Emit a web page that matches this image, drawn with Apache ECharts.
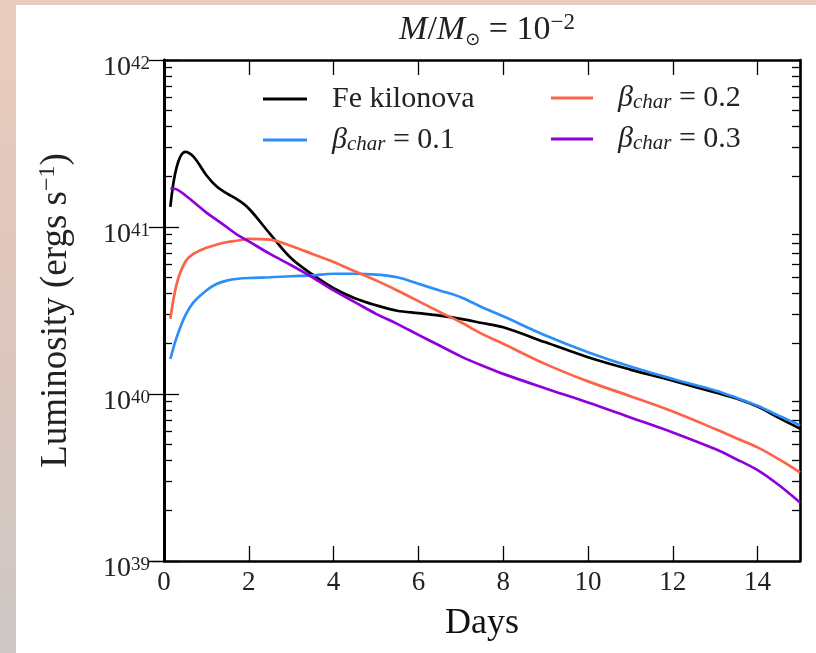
<!DOCTYPE html>
<html>
<head>
<meta charset="utf-8">
<script src="https://cdn.jsdelivr.net/npm/echarts@6/dist/echarts.min.js"></script>
<style>
html,body{margin:0;padding:0;width:816px;height:653px;overflow:hidden;}
body{background:linear-gradient(to bottom,#e9ccbe 0%,#ddc6bd 50%,#cdc8c6 100%);position:relative;}
#paper{position:absolute;left:16px;top:5px;width:800px;height:648px;background:#fff;}
#chart{position:absolute;left:0;top:0;width:816px;height:653px;}
</style>
</head>
<body>
<div id="paper"></div>
<div id="chart"></div>
<script>
// ---- data ----
const days = [0.15, 0.3, 0.5, 0.7, 1.0, 1.25, 1.5, 1.75, 2.0, 2.5, 3.0, 3.5, 4.0, 4.5, 5.0, 5.5, 6.0, 6.5, 7.0, 7.5, 8.0, 9.0, 10.0, 11.0, 12.0, 13.0, 13.5, 14.0, 14.5, 15.0];
const feKilonova = [1.32e41, 2.29e41, 2.82e41, 2.63e41, 2.04e41, 1.74e41, 1.58e41, 1.45e41, 1.29e41, 9.1e40, 6.5e40, 5.2e40, 4.3e40, 3.75e40, 3.4e40, 3.15e40, 3.05e40, 2.95e40, 2.82e40, 2.66e40, 2.51e40, 2.04e40, 1.66e40, 1.40e40, 1.20e40, 1.02e40, 9.4e39, 8.4e39, 7.2e39, 6.2e39];
const beta01 = [1.62e40, 2.19e40, 2.95e40, 3.55e40, 4.17e40, 4.57e40, 4.79e40, 4.9e40, 4.95e40, 5.0e40, 5.07e40, 5.13e40, 5.25e40, 5.25e40, 5.19e40, 5.0e40, 4.57e40, 4.17e40, 3.8e40, 3.31e40, 2.92e40, 2.24e40, 1.78e40, 1.46e40, 1.23e40, 1.05e40, 9.5e39, 8.5e39, 7.4e39, 6.5e39];
const beta02 = [2.82e40, 4.57e40, 6.17e40, 6.92e40, 7.5e40, 7.85e40, 8.13e40, 8.3e40, 8.5e40, 8.4e40, 7.7e40, 6.9e40, 6.17e40, 5.43e40, 4.79e40, 4.17e40, 3.6e40, 3.1e40, 2.69e40, 2.29e40, 2.0e40, 1.51e40, 1.19e40, 9.7e39, 7.85e39, 6.17e39, 5.43e39, 4.79e39, 4.07e39, 3.39e39];
const beta03 = [1.70e41, 1.68e41, 1.55e41, 1.41e41, 1.22e41, 1.10e41, 9.9e40, 8.9e40, 8.2e40, 6.9e40, 5.9e40, 5.0e40, 4.17e40, 3.55e40, 3.02e40, 2.63e40, 2.26e40, 1.95e40, 1.68e40, 1.48e40, 1.32e40, 1.08e40, 8.9e39, 7.24e39, 5.89e39, 4.68e39, 4.07e39, 3.5e39, 2.85e39, 2.24e39];

const seriesNames = ['Fe kilonova', 'βchar = 0.1', 'βchar = 0.2', 'βchar = 0.3'];
const seriesColors = ['#000000', '#2a8ff7', '#fc6347', '#9000d8'];
const seriesValues = [feKilonova, beta01, beta02, beta03];

const xTickInterval = 2;
const xMin = 0, xMax = 15;
const yMin = 1e39, yMax = 1e42;
const yMinorTicks = [2e39,3e39,4e39,5e39,6e39,7e39,8e39,9e39,2e40,3e40,4e40,5e40,6e40,7e40,8e40,9e40,2e41,3e41,4e41,5e41,6e41,7e41,8e41,9e41];

// ---- chart ----
const FONT = "'Liberation Serif', serif";
const chart = echarts.init(document.getElementById('chart'), null, {renderer: 'canvas'});

const axisLineStyle = {show: true, lineStyle: {color: '#000', width: 2.6}};
const majorTick = {show: true, inside: true, length: 15, lineStyle: {color: '#000', width: 1.3}};
const minorTickStyle = {show: true, inside: true, length: 8, lineStyle: {color: '#000', width: 1.3}, customValues: yMinorTicks.map(v => Math.log10(v))};

function legendFormatter(name) {
  if (name.indexOf('βchar') === 0) {
    return '{gap| }{beta|β}{sb|char}{txt| = ' + name.split('= ')[1] + '}';
  }
  return '{gap| }{txt|' + name + '}';
}
const legendRich = {
  gap: {width: 20, fontFamily: FONT, fontSize: 30},
  txt: {fontFamily: FONT, fontSize: 30, fontStyle: 'oblique 0deg', color: '#222', lineHeight: 30},
  beta: {fontFamily: FONT, fontSize: 30, fontStyle: 'italic', color: '#222', lineHeight: 30},
  sb: {fontFamily: FONT, fontSize: 21, fontStyle: 'italic', color: '#222', lineHeight: 14, verticalAlign: 'bottom'}
};
const legendText = {fontFamily: FONT, fontSize: 30, color: '#222', rich: legendRich};

const option = {
  backgroundColor: 'transparent',
  animation: false,
  textStyle: {fontFamily: FONT},
  title: {
    text: '{i|M}{n|/}{i|M}{sub|⊙}{n| = 10}{sup|−2}',
    left: 482, top: 6, textAlign: 'center',
    textStyle: {
      fontWeight: 'normal', fontFamily: FONT,
      rich: {
        i: {fontFamily: FONT, fontSize: 34, fontStyle: 'italic', fontWeight: 'normal', color: '#222', lineHeight: 38},
        n: {fontFamily: FONT, fontSize: 34, fontWeight: 'normal', color: '#222', lineHeight: 38},
        sub: {fontFamily: 'DejaVu Sans', fontSize: 18, fontWeight: 'normal', color: '#222', lineHeight: 16, verticalAlign: 'bottom'},
        sup: {fontFamily: FONT, fontSize: 23, fontWeight: 'normal', color: '#222', lineHeight: 16, verticalAlign: 'top'}
      }
    }
  },
  grid: {left: 164, top: 60, right: 16, bottom: 92, containLabel: false},
  legend: [
    {
      data: [seriesNames[0], seriesNames[1]], orient: 'vertical', left: 263, top: 84, padding: 0,
      icon: 'rect', itemWidth: 44, itemHeight: 3, itemGap: 11,
      formatter: legendFormatter, textStyle: legendText
    },
    {
      data: [seriesNames[2], seriesNames[3]], orient: 'vertical', left: 551, top: 83, padding: 0,
      icon: 'rect', itemWidth: 42, itemHeight: 3, itemGap: 11,
      formatter: legendFormatter, textStyle: legendText
    }
  ],
  xAxis: [
    {
      type: 'value', position: 'bottom', min: xMin, max: xMax, interval: xTickInterval,
      axisLine: axisLineStyle, axisTick: majorTick, splitLine: {show: false},
      axisLabel: {fontFamily: FONT, fontSize: 27, color: '#222', margin: 8, showMaxLabel: false},
      name: 'Days', nameLocation: 'middle', nameGap: 45,
      nameTextStyle: {fontFamily: FONT, fontSize: 36, color: '#111'}
    },
    {
      type: 'value', position: 'top', min: xMin, max: xMax, interval: xTickInterval,
      axisLine: axisLineStyle, axisTick: majorTick, splitLine: {show: false},
      axisLabel: {show: false}
    }
  ],
  yAxis: [
    {
      type: 'log', logBase: 10, position: 'left', min: yMin, max: yMax,
      axisLine: axisLineStyle, axisTick: majorTick, splitLine: {show: false}, minorTick: {show: false},
      axisLabel: {
        margin: 14, padding: [16, 0, 0, 0], fontFamily: FONT,
        formatter: function (v) { return '{b|10}{s|' + Math.round(Math.log10(v)) + '}'; },
        rich: {
          b: {fontFamily: FONT, fontSize: 28, color: '#222', lineHeight: 26},
          s: {fontFamily: FONT, fontSize: 19, color: '#222', lineHeight: 12, verticalAlign: 'top'}
        }
      },
      name: '{n|Luminosity (ergs s}{sup|−1}{n|)}', nameLocation: 'middle', nameRotate: 90, nameGap: 88,
      nameTextStyle: {
        fontFamily: FONT,
        rich: {
          n: {fontFamily: FONT, fontSize: 37, color: '#222', lineHeight: 40},
          sup: {fontFamily: FONT, fontSize: 24, color: '#222', lineHeight: 18, verticalAlign: 'top'}
        }
      }
    },
    {
      type: 'log', logBase: 10, position: 'right', min: yMin, max: yMax,
      axisLine: axisLineStyle, axisTick: majorTick, splitLine: {show: false},
      axisLabel: {show: false}
    },
    {
      type: 'value', position: 'left', min: Math.log10(yMin), max: Math.log10(yMax),
      axisLine: axisLineStyle, axisTick: minorTickStyle, splitLine: {show: false},
      axisLabel: {show: false}
    },
    {
      type: 'value', position: 'right', min: Math.log10(yMin), max: Math.log10(yMax),
      axisLine: axisLineStyle, axisTick: minorTickStyle, splitLine: {show: false},
      axisLabel: {show: false}
    }
  ],
  series: seriesNames.map((name, i) => ({
    name: name,
    type: 'line',
    xAxisIndex: 0, yAxisIndex: 0,
    data: days.map((d, j) => [d, seriesValues[i][j]]),
    smooth: 0.35,
    symbol: 'none',
    color: seriesColors[i],
    lineStyle: {color: seriesColors[i], width: 2.7},
    itemStyle: {color: seriesColors[i]},
    z: 2 + i
  }))
};
chart.setOption(option);
</script>
</body>
</html>
